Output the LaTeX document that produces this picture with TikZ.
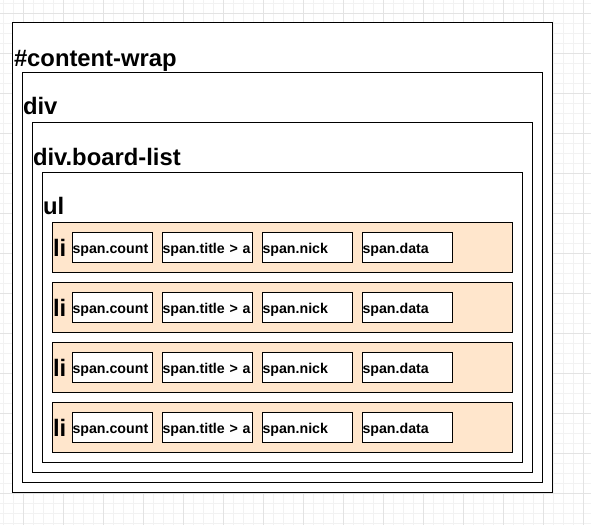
\documentclass[tikz,border=0pt]{standalone}
\usepackage{fontspec}
\setmainfont{Liberation Sans}
\definecolor{peach}{HTML}{FFE6CC}
\definecolor{gridminor}{HTML}{F2F2F2}
\definecolor{gridmajor}{HTML}{E3E3E3}
\begin{document}
\begin{tikzpicture}[x=1pt,y=-1pt,
  box/.style={draw=black,line width=1pt,fill=white,inner sep=0pt,outer sep=0pt},
  libox/.style={box,fill=peach,minimum width=460,minimum height=50},
  spanbox/.style={box,minimum height=30,align=left,inner sep=0pt,
    text height=12pt,text depth=0pt,font=\bfseries\fontsize{14.2}{14}\selectfont},
  lbl/.style={anchor=base west,inner sep=0pt,outer sep=0pt,font=\bfseries\fontsize{23.8}{24}\selectfont},
  minorline/.style={draw=gridminor,line width=1pt},
  majorline/.style={draw=gridmajor,line width=1pt}]
\useasboundingbox (0,0) rectangle (591,525);
\fill[white] (0,0) rectangle (591,525);
% grid
\foreach \x in {3,13,...,583} \draw[minorline] (\x.5,0) -- (\x.5,525);
\foreach \y in {3,13,...,523} \draw[minorline] (0,\y.5) -- (591,\y.5);
\foreach \x in {23,63,...,583} \draw[majorline] (\x.5,0) -- (\x.5,525);
\foreach \y in {13,53,...,493} \draw[majorline] (0,\y.5) -- (591,\y.5);
% containers
\node[box,minimum width=540,minimum height=470] (wrap) at (282.5,257.5) {};
\node[lbl] (wraplbl) at (14,66) {\#content-wrap};
\node[box,minimum width=520,minimum height=410] (div) at (282.5,277.5) {};
\node[lbl] (divlbl) at (23,114) {div};
\node[box,minimum width=500,minimum height=350] (board) at (282.5,297.5) {};
\node[lbl] (boardlbl) at (33,165) {div.board-list};
\node[box,minimum width=480,minimum height=290] (ul) at (282.5,317.5) {};
\node[lbl] (ullbl) at (43,214) {ul};
% list items
\foreach \i in {0,1,2,3}{
  \pgfmathsetmacro{\yc}{247.5+60*\i}
  \node[libox] (li\i) at (282.5,\yc) {};
  \node[lbl] (lilbl\i) at (53,\yc+8.5) {li};
  \node[spanbox,minimum width=80,text width=80pt] (cnt\i) at (112.5,\yc) {span.count};
  \node[spanbox,minimum width=90,text width=90pt] (tit\i) at (207.5,\yc) {span.title > a};
  \node[spanbox,minimum width=90,text width=90pt] (nick\i) at (307.5,\yc) {span.nick};
  \node[spanbox,minimum width=90,text width=90pt] (data\i) at (407.5,\yc) {span.data};
}
\end{tikzpicture}
\end{document}
